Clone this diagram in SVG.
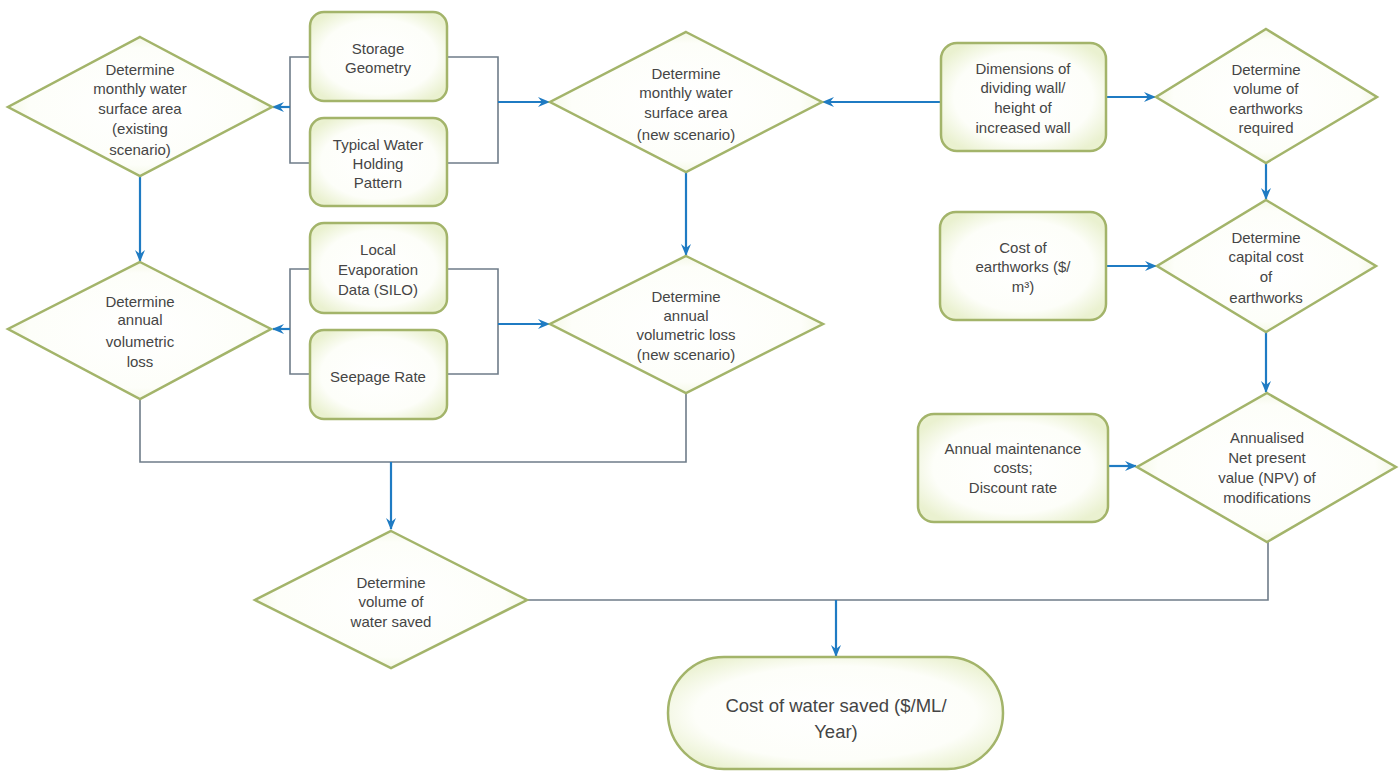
<svg xmlns="http://www.w3.org/2000/svg" width="1399" height="771" viewBox="0 0 1399 771">
<defs>
<radialGradient id="fill" cx="50%" cy="50%" r="60%">
<stop offset="0" stop-color="#ffffff"/>
<stop offset="0.7" stop-color="#fdfef9"/>
<stop offset="1" stop-color="#eaf1d0"/>
</radialGradient>
<marker id="ah" viewBox="0 0 12 10" refX="11" refY="5" markerWidth="12" markerHeight="10" markerUnits="userSpaceOnUse" orient="auto">
<path d="M0,0 L12,5 L0,10 L4,5 z" fill="#1f7bc3"/>
</marker>
</defs>
<style>
.n{fill:url(#fill);stroke:#a3b46a;stroke-width:2.5}
.t{font-family:"Liberation Sans",Arial,sans-serif;font-size:15px;fill:#454545;text-anchor:middle}
.big{font-size:18.5px}
.b{fill:none;stroke:#1f7bc3;stroke-width:2.2}
.g{fill:none;stroke:#6f7c89;stroke-width:1.6}
</style>
<rect width="1399" height="771" fill="#ffffff"/>

<g id="connectors">
<path class="g" d="M310,57 H290 V163 H310"/>
<path class="b" d="M290,107 H273" marker-end="url(#ah)"/>
<path class="g" d="M447,57 H498 V163 H447"/>
<path class="b" d="M498,102 H549" marker-end="url(#ah)"/>
<path class="b" d="M940,102 H823" marker-end="url(#ah)"/>
<path class="b" d="M1106,97 H1155" marker-end="url(#ah)"/>
<path class="b" d="M1266,163 V199" marker-end="url(#ah)"/>
<path class="b" d="M1106,266 H1156" marker-end="url(#ah)"/>
<path class="b" d="M1266,332 V392" marker-end="url(#ah)"/>
<path class="b" d="M1108,466 H1136" marker-end="url(#ah)"/>
<path class="b" d="M140,176 V261" marker-end="url(#ah)"/>
<path class="b" d="M686,172 V255" marker-end="url(#ah)"/>
<path class="g" d="M310,269 H290 V374 H310"/>
<path class="b" d="M290,329 H273" marker-end="url(#ah)"/>
<path class="g" d="M447,269 H498 V374 H447"/>
<path class="b" d="M498,324 H549" marker-end="url(#ah)"/>
<path class="g" d="M140,399 V462 H686 V393"/>
<path class="b" d="M391,462 V529" marker-end="url(#ah)"/>
<path class="g" d="M527,600 H1268 V542"/>
<path class="b" d="M836,600 V656" marker-end="url(#ah)"/>
</g>

<g id="d-monthly-existing">
<polygon class="n" points="140,37 272,107 140,176 8,107"/>
<text class="t"><tspan x="140" y="75">Determine</tspan><tspan x="140" y="94">monthly water</tspan><tspan x="140" y="114">surface area</tspan><tspan x="140" y="134">(existing</tspan><tspan x="140" y="155">scenario)</tspan></text>
</g>
<g id="b-storage">
<rect class="n" x="310" y="12" width="137" height="89" rx="14"/>
<text class="t"><tspan x="378" y="54">Storage</tspan><tspan x="378" y="73">Geometry</tspan></text>
</g>
<g id="b-holding">
<rect class="n" x="310" y="118" width="137" height="88" rx="14"/>
<text class="t"><tspan x="378" y="150">Typical Water</tspan><tspan x="378" y="169">Holding</tspan><tspan x="378" y="188">Pattern</tspan></text>
</g>
<g id="d-monthly-new">
<polygon class="n" points="686,32 822,102 686,172 550,102"/>
<text class="t"><tspan x="686" y="79">Determine</tspan><tspan x="686" y="98">monthly water</tspan><tspan x="686" y="118">surface area</tspan><tspan x="686" y="140">(new scenario)</tspan></text>
</g>
<g id="b-dimensions">
<rect class="n" x="941" y="43" width="165" height="108" rx="16"/>
<text class="t"><tspan x="1023" y="74">Dimensions of</tspan><tspan x="1023" y="93">dividing wall/</tspan><tspan x="1023" y="113">height of</tspan><tspan x="1023" y="133">increased wall</tspan></text>
</g>
<g id="d-volume-earthworks">
<polygon class="n" points="1266,29 1377,97 1266,163 1156,97"/>
<text class="t"><tspan x="1266" y="75">Determine</tspan><tspan x="1266" y="94">volume of</tspan><tspan x="1266" y="114">earthworks</tspan><tspan x="1266" y="133">required</tspan></text>
</g>
<g id="b-cost-earthworks">
<rect class="n" x="940" y="212" width="166" height="108" rx="16"/>
<text class="t"><tspan x="1023" y="253">Cost of</tspan><tspan x="1023" y="272">earthworks ($/</tspan><tspan x="1023" y="292">m³)</tspan></text>
</g>
<g id="d-capital-cost">
<polygon class="n" points="1266,200 1376,266 1266,332 1157,266"/>
<text class="t"><tspan x="1266" y="243">Determine</tspan><tspan x="1266" y="262">capital cost</tspan><tspan x="1266" y="282">of</tspan><tspan x="1266" y="303">earthworks</tspan></text>
</g>
<g id="b-maintenance">
<rect class="n" x="918" y="414" width="190" height="108" rx="16"/>
<text class="t"><tspan x="1013" y="454">Annual maintenance</tspan><tspan x="1013" y="473">costs;</tspan><tspan x="1013" y="493">Discount rate</tspan></text>
</g>
<g id="d-npv">
<polygon class="n" points="1267,393 1396,467 1267,542 1137,467"/>
<text class="t"><tspan x="1267" y="443">Annualised</tspan><tspan x="1267" y="463">Net present</tspan><tspan x="1267" y="483">value (NPV) of</tspan><tspan x="1267" y="503">modifications</tspan></text>
</g>
<g id="d-annual-existing">
<polygon class="n" points="140,262 271,329 140,399 8,329"/>
<text class="t"><tspan x="140" y="307">Determine</tspan><tspan x="140" y="325">annual</tspan><tspan x="140" y="347">volumetric</tspan><tspan x="140" y="367">loss</tspan></text>
</g>
<g id="b-evaporation">
<rect class="n" x="310" y="223" width="137" height="90" rx="14"/>
<text class="t"><tspan x="378" y="255">Local</tspan><tspan x="378" y="275">Evaporation</tspan><tspan x="378" y="295">Data (SILO)</tspan></text>
</g>
<g id="b-seepage">
<rect class="n" x="310" y="330" width="137" height="89" rx="14"/>
<text class="t"><tspan x="378" y="382">Seepage Rate</tspan></text>
</g>
<g id="d-annual-new">
<polygon class="n" points="686,256 823,324 686,393 550,324"/>
<text class="t"><tspan x="686" y="302">Determine</tspan><tspan x="686" y="321">annual</tspan><tspan x="686" y="340">volumetric loss</tspan><tspan x="686" y="360">(new scenario)</tspan></text>
</g>
<g id="d-water-saved">
<polygon class="n" points="391,531 527,600 391,668 255,600"/>
<text class="t"><tspan x="391" y="588">Determine</tspan><tspan x="391" y="607">volume of</tspan><tspan x="391" y="627">water saved</tspan></text>
</g>
<g id="t-cost-water">
<rect class="n" x="668" y="657" width="335" height="112" rx="56"/>
<text class="t big"><tspan x="836" y="712">Cost of water saved ($/ML/</tspan><tspan x="836" y="738">Year)</tspan></text>
</g>
</svg>
